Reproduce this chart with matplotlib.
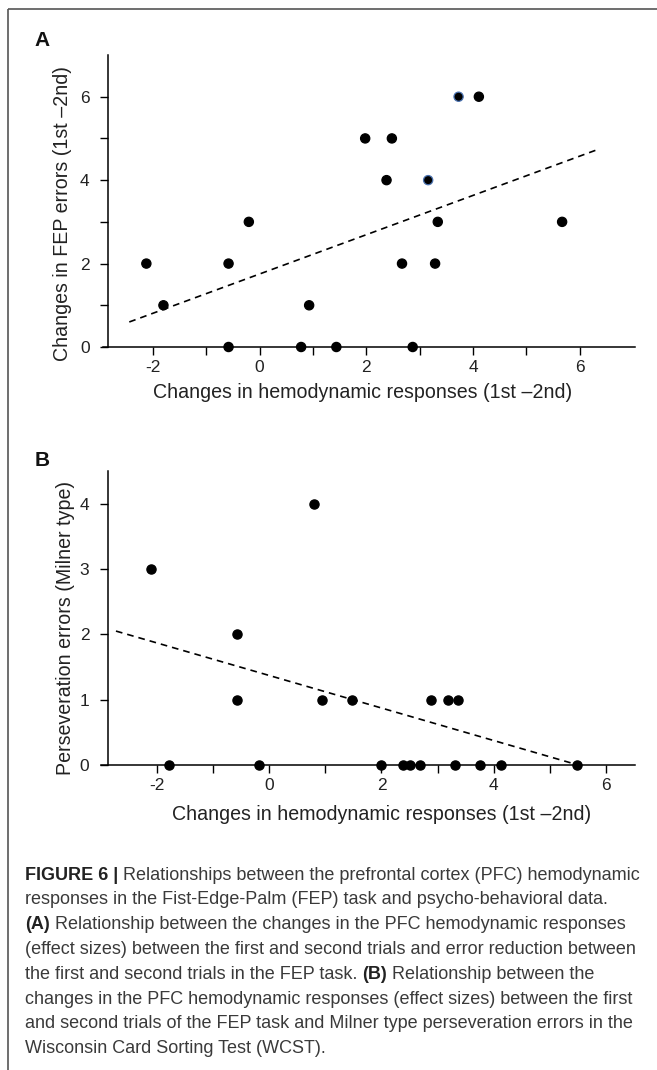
import matplotlib
matplotlib.use("Agg")
import matplotlib.pyplot as plt
import numpy as np

plt.rcParams['font.family'] = ['Liberation Sans', 'DejaVu Sans']
plt.rcParams['axes.unicode_minus'] = False

# ---------------- data ----------------
# Panel A: changes in hemodynamic responses vs changes in FEP errors
a_x = [-2.12, -1.80, -0.58, -0.58, -0.20, 0.78, 0.93, 1.44, 1.98, 2.48,
       2.38, 2.67, 2.87, 3.16, 3.29, 3.34, 3.73, 4.11, 5.67]
a_y = [2, 1, 2, 0, 3, 0, 1, 0, 5, 5,
       4, 2, 0, 4, 2, 3, 6, 6, 3]
a_highlight = [False, False, False, False, False, False, False, False, False, False,
               False, False, False, True, False, False, True, False, False]
a_trend_x = [-2.44, 6.37]
a_trend_y = [0.60, 4.75]

# Panel B: changes in hemodynamic responses vs perseveration errors (Milner type)
b_x = [-2.12, -1.79, -0.58, -0.58, -0.19, 0.79, 0.94, 1.47, 1.99, 2.39,
       2.51, 2.69, 2.89, 3.18, 3.37, 3.31, 3.75, 4.14, 5.49]
b_y = [3, 0, 2, 1, 0, 4, 1, 1, 0, 0,
       0, 0, 1, 1, 1, 0, 0, 0, 0]
b_trend_x = [-2.74, 5.51]
b_trend_y = [2.05, 0.0]

x_ticks = [-2, 0, 2, 4, 6]
x_minor = [-1, 1, 3, 5]
a_yticks = [0, 2, 4, 6]
a_yminor = [1, 3, 5]
b_yticks = [0, 1, 2, 3, 4]

xlabel = "Changes in hemodynamic responses (1st \u20132nd)"
a_ylabel = "Changes in FEP errors (1st \u20132nd)"
b_ylabel = "Perseveration errors (Milner type)"

caption_lines = [
    [("FIGURE 6 |", True), (" Relationships between the prefrontal cortex (PFC) hemodynamic", False)],
    [("responses in the Fist-Edge-Palm (FEP) task and psycho-behavioral data.", False)],
    [("(A)", True), (" Relationship between the changes in the PFC hemodynamic responses", False)],
    [("(effect sizes) between the first and second trials and error reduction between", False)],
    [("the first and second trials in the FEP task. ", False), ("(B)", True), (" Relationship between the", False)],
    [("changes in the PFC hemodynamic responses (effect sizes) between the first", False)],
    [("and second trials of the FEP task and Milner type perseveration errors in the", False)],
    [("Wisconsin Card Sorting Test (WCST).", False)],
]

# ---------------- layout ----------------
W, H = 657, 1070
fig = plt.figure(figsize=(W / 100, H / 100), dpi=100)
fig.patch.set_facecolor('white')


def fx(px):
    return px / W


def fy(py):
    return 1 - py / H


def make_axes(left, right, top, bottom):
    return fig.add_axes([fx(left), fy(bottom), fx(right) - fx(left), fy(top) - fy(bottom)])


TICK_FS = 12.5
LABEL_FS = 14.1

# overlay axes for border and caption
ov = fig.add_axes([0, 0, 1, 1])
ov.set_xlim(0, W)
ov.set_ylim(H, 0)
ov.axis('off')
ov.plot([7.5, 7.5], [9, H], color='#555555', lw=1.2, solid_capstyle='butt')
ov.plot([7.5, W], [9, 9], color='#555555', lw=1.2, solid_capstyle='butt')


def style_axes(ax, xlim, ylim, spine_x, yticks, yminor):
    ax.set_xlim(*xlim)
    ax.set_ylim(*ylim)
    ax.patch.set_alpha(0)
    for s in ['top', 'right']:
        ax.spines[s].set_visible(False)
    ax.spines['left'].set_position(('data', spine_x))
    for s in ['left', 'bottom']:
        ax.spines[s].set_linewidth(1.1)
        ax.spines[s].set_color('black')
    ax.set_xticks(x_ticks)
    ax.set_xticks(x_minor, minor=True)
    ax.set_yticks(yticks)
    if yminor:
        ax.set_yticks(yminor, minor=True)
    ax.tick_params(axis='both', which='both', direction='out', length=5.5, width=1.0,
                   color='black', labelsize=TICK_FS, labelcolor='#222222')
    ax.tick_params(axis='x', which='major', pad=4)
    ax.tick_params(axis='y', which='major', pad=8)


# Panel A
axA = make_axes(102.6, 634.7, 55, 347)
style_axes(axA, (-2.94, 7.03), (0, 7), -2.83, a_yticks, a_yminor)
axA.plot(a_trend_x, a_trend_y, color='black', lw=1.2, ls=(0, (4, 3)))
colors_edge = ['#4a72b0' if h else 'black' for h in a_highlight]
axA.scatter(a_x, a_y, s=44, c='black', edgecolors=colors_edge, linewidths=0.9,
            zorder=5, clip_on=False)

# Panel B
axB = make_axes(101.4, 634.7, 471, 765)
style_axes(axB, (-3.0, 6.52), (0, 4.5), -2.88, b_yticks, None)
axB.plot(b_trend_x, b_trend_y, color='black', lw=1.2, ls=(0, (4, 3)))
axB.scatter(b_x, b_y, s=44, c='black', edgecolors='black', linewidths=0.9,
            zorder=5, clip_on=False)

# labels
ov.text(363, 393, xlabel, ha='center', va='center', fontsize=LABEL_FS, color='#222222')
ov.text(63, 214, a_ylabel, ha='center', va='center', rotation=90, fontsize=LABEL_FS, color='#222222')
ov.text(382, 815, xlabel, ha='center', va='center', fontsize=LABEL_FS, color='#222222')
ov.text(66, 628, b_ylabel, ha='center', va='center', rotation=90, fontsize=LABEL_FS, color='#222222')

ov.text(42, 40, "A", ha='center', va='center', fontsize=15, fontweight='bold', color='#111111')
ov.text(42, 460, "B", ha='center', va='center', fontsize=15, fontweight='bold', color='#111111')

# caption
CAP_FS = 13.0
y0 = 875
dy = 24.8
for i, segs in enumerate(caption_lines):
    prev = None
    y = y0 + i * dy
    for txt, bold in segs:
        kw = dict(fontsize=CAP_FS, fontweight='bold' if bold else 'normal',
                  color='#222222' if bold else '#3a3a3a', ha='left', va='center')
        if prev is None:
            prev = ov.text(25, y, txt, **kw)
        else:
            prev = ov.annotate(txt, xy=(1, 0.5), xycoords=prev, **kw)

fig.savefig("out.png", dpi=100)
